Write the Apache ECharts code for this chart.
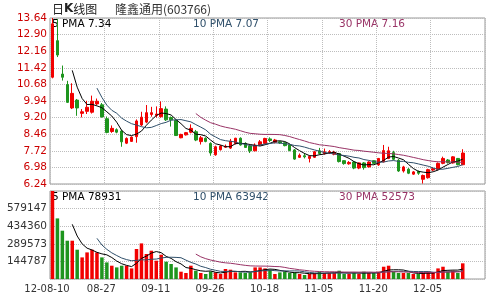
<!DOCTYPE html>
<html>
<head>
<meta charset="utf-8">
<script src="https://cdn.jsdelivr.net/npm/echarts@6/dist/echarts.min.js"></script>
<style>
    html, body { margin: 0; padding: 0; background: #fff; }
    #kline { width: 500px; height: 300px; }
</style>
</head>
<body>
<div id="kline"></div>
<script>
// 交易日期
const dates = [
    '12-08-10', '08-13', '08-14', '08-15', '08-16', '08-17', '08-20', '08-21', '08-22', '08-23',
    '08-24', '08-27', '08-28', '08-29', '08-30', '08-31', '09-03', '09-04', '09-05', '09-06',
    '09-07', '09-10', '09-11', '09-12', '09-13', '09-14', '09-17', '09-18', '09-19', '09-20',
    '09-21', '09-24', '09-25', '09-26', '09-27', '09-28', '10-08', '10-09', '10-10', '10-11',
    '10-12', '10-15', '10-16', '10-17', '10-18', '10-19', '10-22', '10-23', '10-25', '10-26',
    '10-29', '10-30', '10-31', '11-01', '11-02', '11-05', '11-06', '11-07', '11-08', '11-09',
    '11-12', '11-13', '11-14', '11-15', '11-16', '11-19', '11-20', '11-21', '11-22', '11-23',
    '11-26', '11-27', '11-28', '11-29', '11-30', '12-03', '12-04', '12-05', '12-06', '12-07',
    '12-10', '12-11', '12-12', '12-13'
];

// [开盘, 收盘, 最低, 最高]
const kData = [
    [11.00, 13.38, 10.95, 13.64], [12.63, 11.99, 11.90, 13.60], [11.14, 11.00, 10.85, 11.52], [10.67, 9.88, 9.85, 10.84],
    [9.63, 10.28, 9.58, 10.73], [9.98, 9.63, 9.28, 10.03], [9.39, 9.46, 9.21, 9.58], [9.48, 9.66, 9.36, 9.95],
    [9.44, 9.93, 9.38, 10.18], [9.81, 9.93, 9.75, 10.05], [9.77, 9.23, 9.20, 9.85], [9.15, 8.54, 8.50, 9.25],
    [8.58, 8.72, 8.52, 8.85], [8.66, 8.55, 8.50, 8.72], [8.60, 8.12, 7.90, 8.65], [8.06, 8.27, 8.02, 8.32],
    [8.14, 8.33, 8.12, 8.36], [8.35, 9.05, 8.08, 9.12], [8.87, 9.22, 8.82, 9.46], [9.00, 9.42, 8.95, 9.76],
    [9.34, 9.42, 9.24, 9.68], [9.30, 9.36, 9.20, 9.70], [9.24, 9.60, 9.20, 9.92], [9.58, 9.10, 9.05, 9.70],
    [9.20, 9.10, 8.80, 9.25], [9.08, 8.40, 8.38, 9.12], [8.30, 8.45, 8.28, 8.48], [8.43, 8.53, 8.40, 8.56],
    [8.55, 8.72, 8.50, 8.90], [8.57, 8.20, 8.15, 8.65], [8.13, 8.30, 8.00, 8.38], [8.28, 8.14, 8.10, 8.32],
    [8.05, 7.62, 7.50, 8.10], [7.54, 7.90, 7.50, 7.95], [7.77, 7.93, 7.73, 7.98], [7.88, 7.92, 7.85, 8.00],
    [7.84, 8.15, 7.80, 8.25], [8.05, 8.28, 8.00, 8.30], [8.28, 7.98, 7.95, 8.32], [8.05, 7.87, 7.85, 8.10],
    [7.93, 7.72, 7.62, 7.96], [7.72, 7.97, 7.70, 8.05], [7.98, 8.12, 7.95, 8.20], [8.05, 8.27, 8.02, 8.30],
    [8.25, 8.18, 8.10, 8.32], [8.10, 8.20, 8.05, 8.25], [8.12, 8.07, 8.03, 8.15], [8.08, 7.95, 7.92, 8.10],
    [7.98, 7.73, 7.70, 8.00], [7.76, 7.35, 7.32, 7.80], [7.43, 7.52, 7.40, 7.60], [7.50, 7.45, 7.38, 7.62],
    [7.38, 7.47, 7.20, 7.52], [7.43, 7.68, 7.40, 7.70], [7.72, 7.60, 7.55, 7.85], [7.60, 7.68, 7.55, 7.82],
    [7.62, 7.68, 7.58, 7.75], [7.57, 7.65, 7.52, 7.72], [7.60, 7.24, 7.20, 7.62], [7.28, 7.15, 7.10, 7.30],
    [7.14, 7.20, 7.10, 7.26], [7.22, 6.95, 6.90, 7.25], [6.95, 7.18, 6.90, 7.20], [7.18, 6.97, 6.88, 7.22],
    [7.00, 7.22, 6.98, 7.25], [7.28, 7.16, 7.12, 7.30], [7.09, 7.38, 7.05, 7.40], [7.23, 7.73, 7.20, 7.98],
    [7.38, 7.72, 7.35, 7.90], [7.64, 7.34, 7.30, 7.72], [7.30, 6.82, 6.78, 7.35], [6.82, 7.00, 6.75, 7.05],
    [6.90, 6.72, 6.68, 6.95], [6.68, 6.78, 6.65, 6.82], [6.80, 6.72, 6.65, 6.84], [6.45, 6.62, 6.26, 6.66],
    [6.52, 6.88, 6.48, 6.92], [6.86, 6.92, 6.82, 6.98], [6.89, 7.16, 6.86, 7.20], [7.16, 7.38, 7.12, 7.46],
    [7.31, 7.20, 7.15, 7.35], [7.18, 7.45, 7.15, 7.48], [7.38, 7.10, 7.07, 7.40], [7.10, 7.62, 7.08, 7.79]
];

// 成交量
const volumes = [
    723934, 498500, 397300, 315000, 315000, 241000, 177700, 218800, 241000, 218800,
    177700, 136600, 109400, 95400, 109400, 109400, 87200, 246800, 292900, 205600,
    232800, 150500, 199900, 142300, 123400, 95400, 60100, 49400, 109400, 68300,
    49400, 41100, 62500, 54300, 41100, 82300, 76500, 54300, 54300, 49400,
    54300, 95400, 95400, 87200, 76500, 41100, 54300, 60100, 49400, 54300,
    41100, 32900, 41100, 49400, 60100, 49400, 49400, 49400, 68300, 41100,
    44000, 49400, 44000, 60100, 49400, 49400, 60100, 101000, 109400, 60100,
    49400, 49400, 49400, 41100, 41100, 49400, 60100, 49400, 87200, 101000,
    60100, 68300, 49400, 129000
];

// 刻度
const priceTicks = ['6.24', '6.98', '7.72', '8.46', '9.20', '9.94', '10.68', '11.42', '12.16', '12.90', '13.64'];
const volTicks = ['', '144787', '289573', '434360', '579147', ''];
const volStep = 144786.8;
const emptySlots = 4;

const priceLegend = ['5 PMA 7.34', '10 PMA 7.07', '30 PMA 7.16'];
const volLegend = ['5 PMA 78931', '10 PMA 63942', '30 PMA 52573'];

const UP = '#f20000';
const DOWN = '#1e951e';
const MA_COLORS = ['#000000', '#2f4f6a', '#993366'];
const GRID_LINE = { color: '#bdbdbd', type: 'dotted', width: 1 };

function calcMA(values, n) {
    const out = [];
    for (let i = 0; i < values.length; i++) {
        if (i < n - 1) { out.push('-'); continue; }
        let sum = 0;
        for (let j = 0; j < n; j++) sum += values[i - j];
        out.push(+(sum / n).toFixed(3));
    }
    return out;
}

function initKLineChart() {
    const chart = echarts.init(document.getElementById('kline'));

    const categories = dates.concat(new Array(emptySlots).fill(''));
    const closes = kData.map(d => d[1]);
    const volData = volumes.map((v, i) => ({
        value: v,
        itemStyle: { color: kData[i][1] >= kData[i][0] ? UP : DOWN }
    }));

    const xBase = {
        type: 'category',
        data: categories,
        boundaryGap: true,
        axisLine: { show: false },
        axisTick: { show: false, interval: 10 },
        splitLine: { show: true, interval: 10, lineStyle: GRID_LINE }
    };

    const legendText = (labels, top) => labels.map((t, i) => ({
        type: 'text',
        left: [52, 193, 339][i],
        top: top,
        style: { text: t, fill: MA_COLORS[i], font: '10.5px "DejaVu Sans"' }
    }));

    const maSeries = (values, xi, yi) => [5, 10, 30].map((n, i) => ({
        type: 'line',
        xAxisIndex: xi,
        yAxisIndex: yi,
        data: calcMA(values, n),
        symbol: 'none',
        lineStyle: { width: 1, color: MA_COLORS[i] },
        z: 5
    }));

    const option = {
        animation: false,
        backgroundColor: '#fff',
        grid: [
            { left: 50, top: 18, width: 435, height: 166, show: true, borderColor: '#999', borderWidth: 1 },
            { left: 50, top: 191, width: 435, height: 88, show: true, borderColor: '#999', borderWidth: 1 }
        ],
        xAxis: [
            Object.assign({}, xBase, { gridIndex: 0, axisLabel: { show: false } }),
            Object.assign({}, xBase, {
                gridIndex: 1,
                axisLabel: {
                    interval: 10, color: '#333', fontSize: 10, fontFamily: 'DejaVu Sans',
                    margin: 5, padding: [0, 11, 0, 0]
                }
            })
        ],
        yAxis: [
            { type: 'value', gridIndex: 0, min: 6.24, max: 13.64, show: false },
            {
                type: 'value', gridIndex: 1, min: 0, max: volStep * 5, interval: volStep,
                axisLine: { show: false }, axisTick: { show: false },
                splitLine: { lineStyle: GRID_LINE },
                axisLabel: {
                    color: '#333', fontSize: 10.5, fontFamily: 'DejaVu Sans', margin: 3,
                    formatter: v => volTicks[Math.round(v / volStep)]
                }
            },
            {
                type: 'value', gridIndex: 0, position: 'left', min: 0, max: 10, interval: 1,
                axisLine: { show: false }, axisTick: { show: false },
                splitLine: { lineStyle: GRID_LINE },
                axisLabel: {
                    color: '#cc0000', fontSize: 10.5, fontFamily: 'DejaVu Sans', margin: 3,
                    formatter: v => priceTicks[Math.round(v)]
                }
            }
        ],
        graphic: [
            {
                type: 'text', left: 52, top: 3,
                style: {
                    text: '日{k|K}线图',
                    font: '12px "Noto Sans CJK SC"', fill: '#222',
                    rich: { k: { fontWeight: 'bold', fontFamily: 'DejaVu Sans', fontSize: 12, fill: '#222' } }
                }
            },
            {
                type: 'text', left: 115, top: 3,
                style: { text: '隆鑫通用(603766)', font: '12px "Noto Sans CJK SC"', fill: '#333' }
            }
        ].concat(legendText(priceLegend, 19), legendText(volLegend, 192)),
        series: [
            {
                type: 'candlestick',
                xAxisIndex: 0,
                yAxisIndex: 0,
                data: kData,
                barWidth: 3,
                itemStyle: { color: UP, color0: DOWN, borderColor: UP, borderColor0: DOWN, borderWidth: 1 }
            },
            {
                type: 'bar',
                xAxisIndex: 1,
                yAxisIndex: 1,
                data: volData,
                barWidth: 3.5
            }
        ].concat(maSeries(closes, 0, 0), maSeries(volumes, 1, 1))
    };

    chart.setOption(option);
}

window.onload = function () {
    initKLineChart();
};
</script>
</body>
</html>
